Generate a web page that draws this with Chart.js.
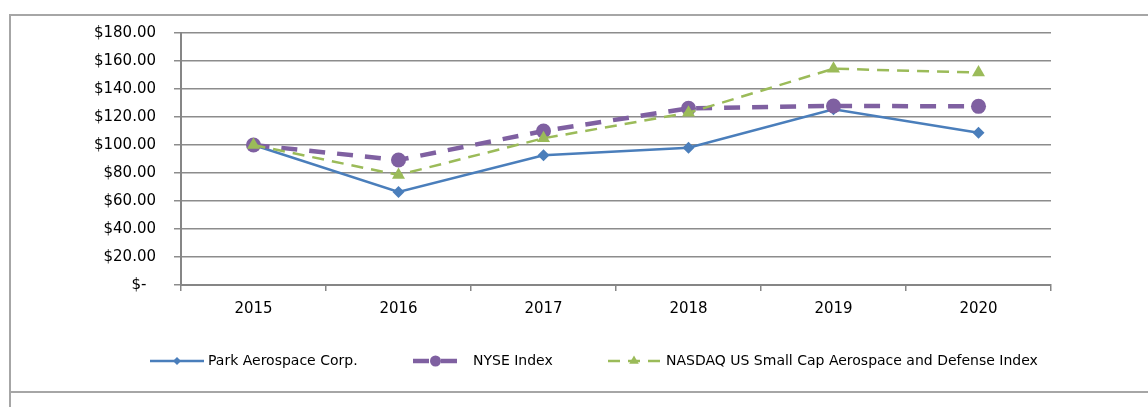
<!DOCTYPE html>
<html><head><meta charset="utf-8">
<script src="https://cdn.jsdelivr.net/npm/chart.js@4"></script>
<style>html,body{margin:0;padding:0;background:#fff;overflow:hidden}#wrap{position:relative;width:1148px;height:407px}</style>
</head><body><div id="wrap"><canvas id="c" width="1148" height="407"></canvas></div>
<script>
const categories = ['2015', '2016', '2017', '2018', '2019', '2020'];
const parkValues = [100, 66.4, 92.6, 98.1, 125.5, 108.8];
const nyseValues = [100, 89.3, 110.0, 126.2, 127.9, 127.6];
const nasdaqValues = [100, 78.6, 104.8, 123.0, 154.5, 151.7];
const seriesNames = ['Park Aerospace Corp.', 'NYSE Index', 'NASDAQ US Small Cap Aerospace and Defense Index'];
const yTickLabels = ['$-', '$20.00', '$40.00', '$60.00', '$80.00', '$100.00', '$120.00', '$140.00', '$160.00', '$180.00'];

const FONT = '"DejaVu Sans", Verdana, sans-serif';
const BLUE = '#4A7EBB', PURPLE = '#7F60A1', GREEN = '#9BBB59';

const framePlugin = {
  id: 'frame',
  beforeDraw(chart) {
    const ctx = chart.ctx;
    ctx.save();
    ctx.strokeStyle = '#a6a6a6';
    ctx.lineWidth = 2;
    ctx.beginPath();
    ctx.moveTo(10, 407); ctx.lineTo(10, 15); ctx.lineTo(1148, 15);
    ctx.moveTo(10, 392); ctx.lineTo(1148, 392);
    ctx.stroke();
    ctx.restore();
  }
};

function marker(ctx, style, x, y, r, color) {
  ctx.save();
  ctx.setLineDash([]);
  ctx.fillStyle = color;
  ctx.beginPath();
  if (style === 'circle') {
    ctx.arc(x, y, r, 0, Math.PI * 2);
  } else if (style === 'rectRot') {
    ctx.moveTo(x, y - r); ctx.lineTo(x + r, y); ctx.lineTo(x, y + r); ctx.lineTo(x - r, y);
  } else if (style === 'triangle') {
    ctx.moveTo(x, y - r); ctx.lineTo(x + r * 0.87, y + r * 0.5); ctx.lineTo(x - r * 0.87, y + r * 0.5);
  }
  ctx.closePath();
  ctx.fill();
  ctx.restore();
}

const legendPlugin = {
  id: 'customLegend',
  afterDraw(chart) {
    const ctx = chart.ctx;
    const cy = 361;
    const sampleStart = [150, 413, 608];
    const sampleEnd = [204, 458, 660];
    const textX = [208, 473, 666];
    const markerR = [4, 5.5, 5.5];
    const dsOrder = [0, 1, 2];
    ctx.save();
    dsOrder.forEach((di, i) => {
      const ds = chart.data.datasets[di];
      ctx.strokeStyle = ds.borderColor;
      ctx.lineWidth = ds.borderWidth;
      ctx.setLineDash(ds.borderDash || []);
      ctx.lineDashOffset = 0;
      ctx.beginPath();
      ctx.moveTo(sampleStart[i], cy);
      ctx.lineTo(sampleEnd[i], cy);
      ctx.stroke();
      marker(ctx, ds.pointStyle, (sampleStart[i] + sampleEnd[i]) / 2, cy, markerR[i], ds.borderColor);
      ctx.setLineDash([]);
      ctx.fillStyle = '#000';
      ctx.font = '14px ' + FONT;
      ctx.textBaseline = 'middle';
      ctx.textAlign = 'left';
      ctx.fillText(ds.label, textX[i], cy);
    });
    ctx.restore();
  }
};

new Chart(document.getElementById('c'), {
  type: 'line',
  data: {
    labels: categories,
    datasets: [
      {
        label: seriesNames[0], data: parkValues, order: 3,
        borderColor: BLUE, backgroundColor: BLUE, borderWidth: 2.5,
        pointStyle: 'rectRot', pointRadius: 6, pointBackgroundColor: BLUE, pointBorderColor: BLUE, pointBorderWidth: 0,
        tension: 0, fill: false
      },
      {
        label: seriesNames[1], data: nyseValues, order: 2,
        borderColor: PURPLE, backgroundColor: PURPLE, borderWidth: 4.5, borderDash: [16, 12],
        pointStyle: 'circle', pointRadius: 7.5, pointBackgroundColor: PURPLE, pointBorderColor: PURPLE, pointBorderWidth: 0,
        tension: 0, fill: false
      },
      {
        label: seriesNames[2], data: nasdaqValues, order: 1,
        borderColor: GREEN, backgroundColor: GREEN, borderWidth: 2.5, borderDash: [12, 8],
        pointStyle: 'triangle', pointRadius: 7.5, pointBackgroundColor: GREEN, pointBorderColor: GREEN, pointBorderWidth: 0,
        tension: 0, fill: false
      }
    ]
  },
  options: {
    responsive: false, animation: false, devicePixelRatio: 1,
    layout: { padding: { left: 0, right: 97, top: 33, bottom: 0 } },
    plugins: { legend: { display: false }, tooltip: { enabled: false } },
    scales: {
      x: {
        type: 'category', offset: true,
        grid: { offset: true, drawOnChartArea: false, drawTicks: true, tickLength: 6, color: '#868686', lineWidth: 1.5 },
        border: { display: true, color: '#868686', width: 2 },
        ticks: { color: '#000', font: { family: FONT, size: 15 }, padding: 9, maxRotation: 0 },
        afterFit(s) { s.height = 122; }
      },
      y: {
        min: 0, max: 180,
        ticks: {
          stepSize: 20, color: '#000', font: { family: FONT, size: 15 }, padding: 18,
          callback(v, i) { const t = yTickLabels[i]; return t === '$-' ? t + '  ' : t; }
        },
        grid: { color: '#8c8c8c', lineWidth: 1.5, tickLength: 7, drawTicks: true },
        border: { display: true, color: '#868686', width: 2 },
        afterFit(s) { s.width = 181; }
      }
    }
  },
  plugins: [framePlugin, legendPlugin]
});
</script>
</body></html>
